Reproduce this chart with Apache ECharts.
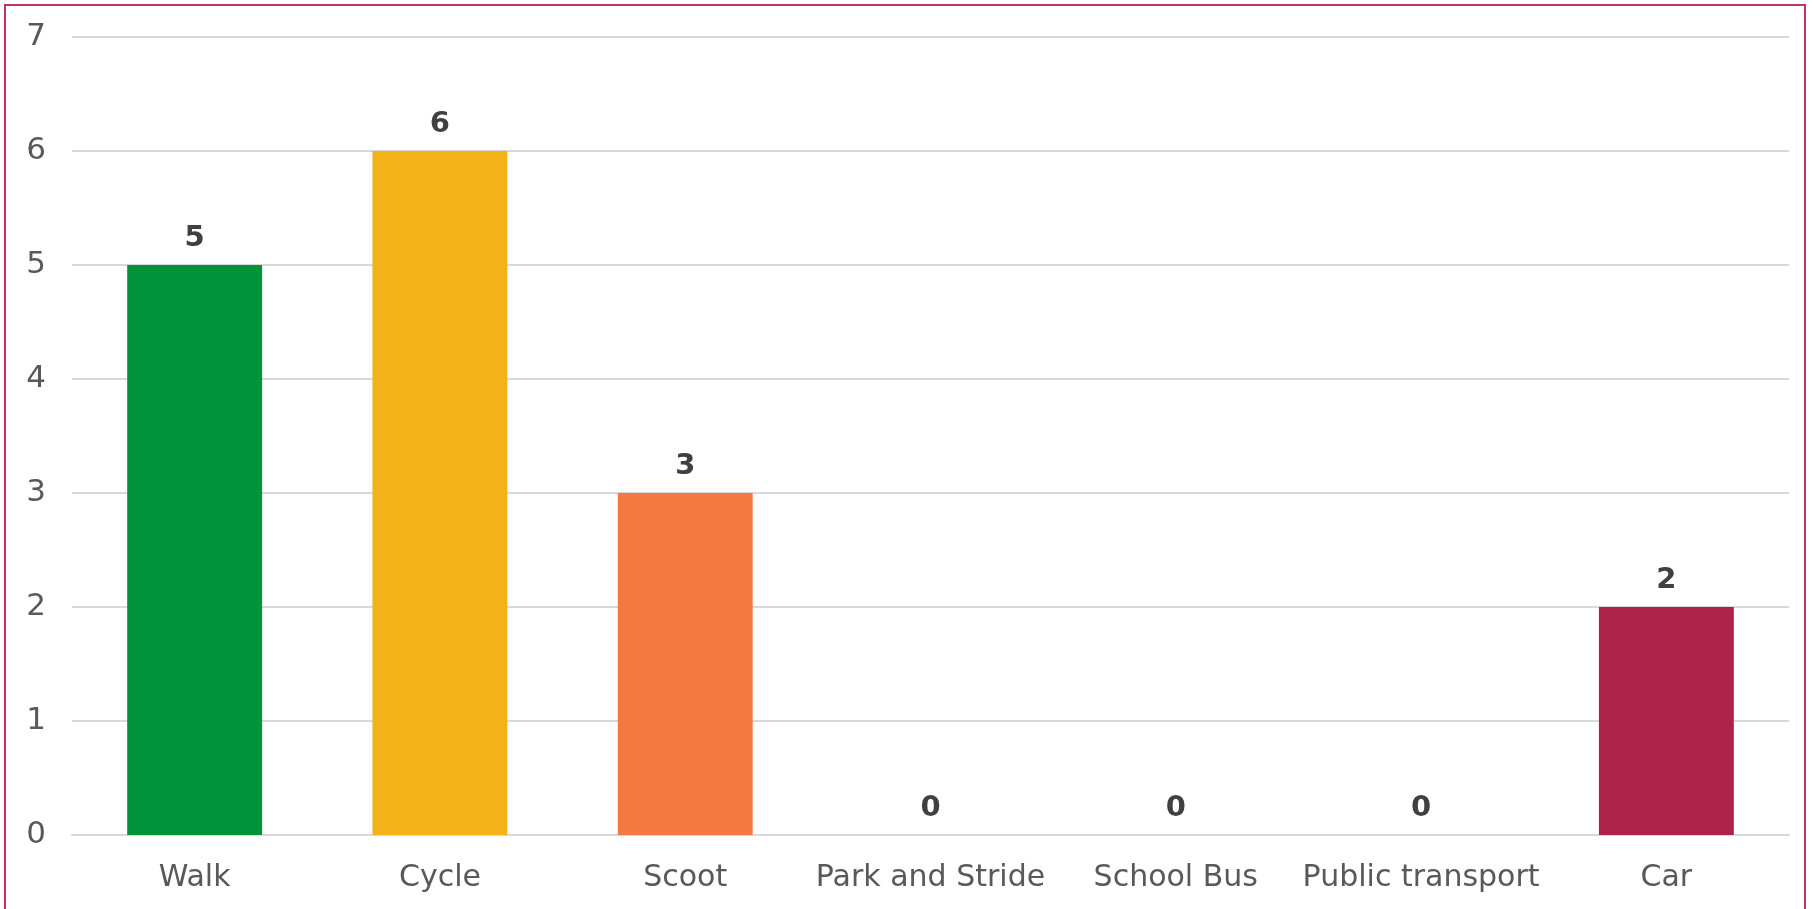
<!DOCTYPE html>
<html>
<head>
<meta charset="utf-8">
<script src="https://cdn.jsdelivr.net/npm/echarts@6/dist/echarts.min.js"></script>
<style>
html,body{margin:0;padding:0;width:1813px;height:909px;overflow:hidden;background:#fff;}
#chart{position:absolute;left:0;top:0;width:1813px;height:909px;}
#frame{position:absolute;left:4px;top:4px;width:1802px;height:930px;border:2px solid #C13660;box-sizing:border-box;pointer-events:none;}
</style>
</head>
<body>
<div id="chart"></div>
<div id="frame"></div>
<script>
const categories = ['Walk', 'Cycle', 'Scoot', 'Park and Stride', 'School Bus', 'Public transport', 'Car'];
const values = [5, 6, 3, 0, 0, 0, 2];
const colors = ['#00933B', '#F2B218', '#F47842', '#999999', '#999999', '#999999', '#AB224A'];
const yTicks = [0, 1, 2, 3, 4, 5, 6, 7];

const chart = echarts.init(document.getElementById('chart'));
const font = 'DejaVu Sans';
chart.setOption({
  animation: false,
  grid: {left: 72, right: 24, top: 37, bottom: 74, containLabel: false},
  xAxis: {
    type: 'category',
    data: categories,
    axisTick: {show: false},
    axisLine: {lineStyle: {color: '#D9D9D9', width: 2}},
    axisLabel: {fontFamily: font, fontSize: 30, color: '#595959', margin: 28, interval: 0}
  },
  yAxis: {
    type: 'value',
    min: yTicks[0],
    max: yTicks[yTicks.length - 1],
    interval: 1,
    axisLine: {show: false},
    axisTick: {show: false},
    splitLine: {lineStyle: {color: '#D9D9D9', width: 2}},
    axisLabel: {fontFamily: font, fontSize: 31, color: '#595959', margin: 26}
  },
  series: [{
    type: 'bar',
    barWidth: '55%',
    data: values.map((v, i) => ({value: v, itemStyle: {color: colors[i]}})),
    label: {
      show: true,
      position: 'top',
      distance: 12,
      fontFamily: font,
      fontSize: 29,
      fontWeight: 'bold',
      color: '#404040'
    }
  }]
});
</script>
</body>
</html>
